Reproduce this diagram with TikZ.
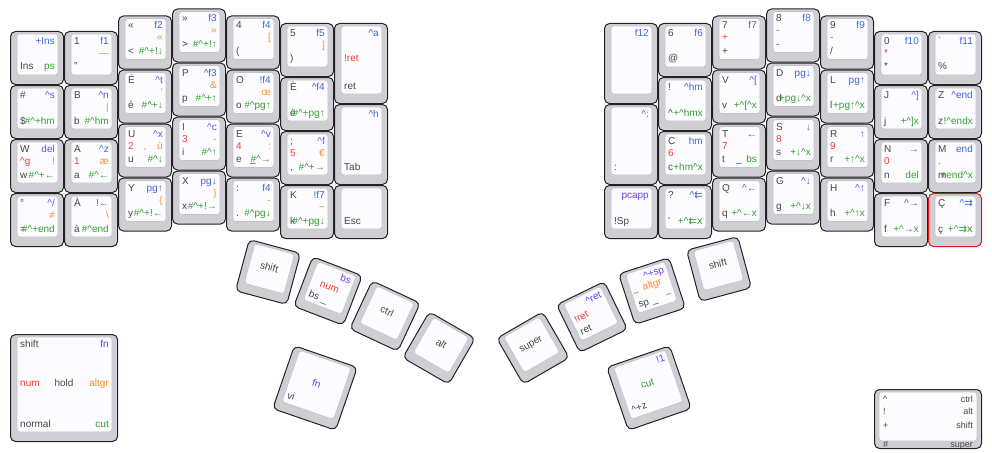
\documentclass[tikz,border=0pt]{standalone}
\usepackage{fontspec}
\setmainfont{Liberation Sans}
\newfontfamily\dvs{DejaVu Sans}
\definecolor{kbord}{RGB}{35,35,38}
\definecolor{kbez}{RGB}{206,206,212}
\definecolor{ktop}{RGB}{252,252,254}
\definecolor{kinb}{RGB}{195,195,200}
\definecolor{ctext}{RGB}{70,70,70}
\definecolor{clight}{RGB}{150,150,150}
\definecolor{cblue}{RGB}{64,100,220}
\definecolor{cgreen}{RGB}{50,160,50}
\definecolor{corange}{RGB}{255,140,40}
\definecolor{cred}{RGB}{245,60,50}
\definecolor{cviolet}{RGB}{100,60,255}
\definecolor{credb}{RGB}{230,20,20}
\newcounter{lgc}
\tikzset{
 keyout/.style={draw=kbord, fill=kbez, line width=1pt, rounded corners=5pt, inner sep=0pt, transform shape},
 keyin/.style={draw=kinb, fill=ktop, line width=0.6pt, rounded corners=3pt},
 lgs/.style={inner sep=0pt, font=\fontsize{10}{12}\selectfont, transform shape},
 lgsmall/.style={font=\fontsize{9}{11}\selectfont},
}
\newcommand\lgd[3]{\stepcounter{lgc}\node[lgs,#1] (lg\arabic{lgc}) at (#2) {#3};}
\newcommand\TL[2][ctext]{\lgd{anchor=base west,text=#1}{10,13.5}{#2}}
\newcommand\TR[2][cblue]{\lgd{anchor=base east,text=#1}{\kr,13.5}{#2}}
\newcommand\ML[2][cred]{\lgd{anchor=base west,text=#1}{10,\km}{#2}}
\newcommand\MC[2][ctext]{\lgd{anchor=base,text=#1}{\kc,\km}{#2}}
\newcommand\MR[2][corange]{\lgd{anchor=base east,text=#1}{\kr,\km}{#2}}
\newcommand\BL[2][ctext]{\lgd{anchor=base west,text=#1}{10,\kb}{#2}}
\newcommand\BC[2][ctext]{\lgd{anchor=base,text=#1}{\kc,\kb}{#2}}
\newcommand\BR[2][cgreen]{\lgd{anchor=base east,text=#1}{\kr,\kb}{#2}}
\newcommand\keybody[4][kbord]{%
 \pgfmathsetmacro\kr{#3-9}\pgfmathsetmacro\kc{#3/2}%
 \pgfmathsetmacro\km{#4/2-1.5}\pgfmathsetmacro\kb{#4-15}%
 \node[keyout, draw=#1, minimum width=#3pt-1pt, minimum height=#4pt-1pt] (#2) at (#3/2,#4/2) {};
 \draw[keyin] (7,3) rectangle (#3-6,#4-10);}
\newcommand\K[6][kbord]{\begin{scope}[shift={(#3,#4)}]\keybody[#1]{#2}{54}{#5}#6\end{scope}}
\newcommand\RK[7]{\begin{scope}[shift={(#2,#3)},rotate=#4,shift={(-#5/2,-#6/2)}]\keybody{#1}{#5}{#6}#7\end{scope}}
\newcommand\LL{\dvs\char"21C7}
\newcommand\RR{\dvs\char"21C9}
\catcode`\^=12
\begin{document}
\begin{tikzpicture}[x=1pt,y=-1pt]
\fill[white] (0,0) rectangle (992,452);
\useasboundingbox (0,0) rectangle (992,452);
% ---------- left half ----------
\K{l00}{10}{31}{54}{\TR{+Ins}\BL{Ins}\BR{ps}}
\K{l01}{10}{85}{54}{\TL{\#}\TR{^s}\BL{\$}\BR{\#^+hm}}
\K{l02}{10}{139}{54}{\TL{W}\TR{del}\ML{^g}\MR{!}\BL{w}\BR{\#^+←}}
\K{l03}{10}{193}{54}{\TL{°}\TR{^/}\MR{≠}\BL{=}\BR{\#^+end}}
\K{l10}{64}{31}{54}{\TL{1}\TR{f1}\MR{—}\BL{"}}
\K{l11}{64}{85}{54}{\TL{B}\TR{^n}\MR{|}\BL{b}\BR{\#^hm}}
\K{l12}{64}{139}{54}{\TL{A}\TR{^z}\ML{1}\MR{æ}\BL{a}\BR{\#^←}}
\K{l13}{64}{193}{54}{\TL{À}\TR{!←}\MR{\textbackslash}\BL{à}\BR{\#^end}}
\K{l20}{118}{15.5}{54}{\TL{«}\TR{f2}\MR{«}\BL{<}\BR{\#^+!↓}}
\K{l21}{118}{69.5}{54}{\TL{É}\TR{^t}\MR{\textquotesingle}\BL{é}\BR{\#^+↓}}
\K{l22}{118}{123.5}{54}{\TL{U}\TR{^x}\ML{2}\MC[clight]{,}\MR{ù}\BL{u}\BR{\#^↓}}
\K{l23}{118}{177.5}{54}{\TL{Y}\TR{pg↑}\MR{\{}\BL{y}\BR{\#^+!←}}
\K{l30}{172}{8.5}{54}{\TL{»}\TR{f3}\MR{»}\BL{>}\BR{\#^+!↑}}
\K{l31}{172}{62.5}{54}{\TL{P}\TR{^f3}\MR{\&}\BL{p}\BR{\#^+↑}}
\K{l32}{172}{116.5}{54}{\TL{I}\TR{^c}\ML{3}\MR{-}\BL{i}\BR{\#^↑}}
\K{l33}{172}{170.5}{54}{\TL{X}\TR{pg↓}\MR{\}}\BL{x}\BR{\#^+!→}}
\K{l40}{226}{15.5}{54}{\TL{4}\TR{f4}\MR{[}\BL{(}}
\K{l41}{226}{69.5}{54}{\TL{O}\TR{!f4}\MR{œ}\BL{o}\BR{\#^pg↑}}
\K{l42}{226}{123.5}{54}{\TL{E}\TR{^v}\ML{4}\MR{:}\BL{e}\BC{\_}\BR{\#^→}}
\K{l43}{226}{177.5}{54}{\TL{:}\TR{f4}\MR{-}\BL{.}\BR{\#^pg↓}}
\K{l50}{280}{23}{54}{\TL{5}\TR{f5}\MR{]}\BL{)}}
\K{l51}{280}{77}{54}{\TL{È}\TR{^f4}\BL{è}\BR{\#^+pg↑}}
\K{l52}{280}{131}{54}{\TL{;}\TR{^f}\ML{5}\MR{€}\BL{,}\BR{\#^+→}}
\K{l53}{280}{185}{54}{\TL{K}\TR{!f7}\MR{\textasciitilde}\BL{k}\BR{\#^+pg↓}}
\K{l60}{334}{23}{81}{\TR{^a}\ML{!ret}\BL{ret}}
\K{l61}{334}{104}{81}{\TR{^h}\BL{Tab}}
\K{l62}{334}{185}{54}{\BL{Esc}}
% ---------- right half ----------
\K{r00}{604}{23}{81}{\TR{f12}}
\K{r01}{604}{104}{81}{\TR{^:}\BL{:}}
\K{r02}{604}{185}{54}{\TR[cviolet]{pcapp}\BL{!Sp}}
\K{r10}{658}{23}{54}{\TL{6}\TR{f6}\BL{@}}
\K{r11}{658}{77}{54}{\TL{!}\TR{^hm}\BL{^}\BR{+^hmx}}
\K{r12}{658}{131}{54}{\TL{C}\TR{hm}\ML{6}\BL{c}\BR{+hm^x}}
\K{r13}{658}{185}{54}{\TL{?}\TR{^\LL}\BL{\textquotesingle}\BR{+^\LL x}}
\K{r20}{712}{15.5}{54}{\TL{7}\TR{f7}\ML{+}\BL{+}}
\K{r21}{712}{69.5}{54}{\TL{V}\TR{^[}\BL{v}\BR{+^[^x}}
\K{r22}{712}{123.5}{54}{\TL{T}\TR{←}\ML{7}\BL{t}\BC{\_}\BR{bs}}
\K{r23}{712}{177.5}{54}{\TL{Q}\TR{^←}\BL{q}\BR{+^←x}}
\K{r30}{766}{8.5}{54}{\TL{8}\TR{f8}\ML{-}\BL{-}}
\K{r31}{766}{62.5}{54}{\TL{D}\TR{pg↓}\BL{d}\BR{+pg↓^x}}
\K{r32}{766}{116.5}{54}{\TL{S}\TR{↓}\ML{8}\BL{s}\BR{+↓^x}}
\K{r33}{766}{170.5}{54}{\TL{G}\TR{^↓}\BL{g}\BR{+^↓x}}
\K{r40}{820}{15.5}{54}{\TL{9}\TR{f9}\ML{-}\BL{/}}
\K{r41}{820}{69.5}{54}{\TL{L}\TR{pg↑}\BL{l}\BR{+pg↑^x}}
\K{r42}{820}{123.5}{54}{\TL{R}\TR{↑}\ML{9}\BL{r}\BR{+↑^x}}
\K{r43}{820}{177.5}{54}{\TL{H}\TR{^↑}\BL{h}\BR{+^↑x}}
\K{r50}{874}{31}{54}{\TL{0}\TR{f10}\ML{*}\BL{*}}
\K{r51}{874}{85}{54}{\TL{J}\TR{^]}\BL{j}\BR{+^]x}}
\K{r52}{874}{139}{54}{\TL{N}\TR{→}\ML{0}\BL{n}\BR{del}}
\K{r53}{874}{193}{54}{\TL{F}\TR{^→}\BL{f}\BR{+^→x}}
\K{r60}{928}{31}{54}{\TL{\textasciigrave}\TR{f11}\BL{\%}}
\K{r61}{928}{85}{54}{\TL{Z}\TR{^end}\BL{z}\BR{!^endx}}
\K{r62}{928}{139}{54}{\TL{M}\TR{end}\ML{.}\BL{m}\BR{+end^x}}
\K[credb]{r63}{928}{193}{54}{\TL{Ç}\TR{^\RR}\BL{ç}\BR{+^\RR x}}
% ---------- thumbs ----------
\RK{tl1}{268}{272}{-15}{54}{54}{\MC{shift}}
\RK{tl2}{328}{291}{-21}{54}{54}{\TR[cviolet]{bs}\MC[cred]{num}\BL{bs}\BC{\_}}
\RK{tl3}{385}{316}{-25}{54}{54}{\MC{ctrl}}
\RK{tl4}{439}{348}{-30}{54}{54}{\MC{alt}}
\RK{tl5}{315}{388}{-19}{67.5}{67.5}{\MC[cviolet]{fn}\BL{vi}}
\RK{tr1}{533}{348}{30}{54}{54}{\MC{super}}
\RK{tr2}{592}{317}{26}{54}{54}{\TR[cviolet]{^ret}\ML{!ret}\BL{ret}}
\RK{tr3}{652}{291}{18}{54}{54}{\TR[cviolet]{^+sp}\lgd{anchor=base west,text=cred}{8,\km+2}{\textasciitilde}\lgd{anchor=base,text=corange}{\kc+2,\km-1.5}{altgr}\BL{sp}\BC{\_}\BR{\textasciitilde}}
\RK{tr4}{719}{269}{15}{54}{54}{\MC{shift}}
\RK{tr5}{649}{388}{19}{67.5}{67.5}{\TR[cviolet]{!1}\MC[cgreen]{cut}\BL{^+z}}
% ---------- legends ----------
\begin{scope}[shift={(10,334)}]
\keybody{legl}{108}{108}
\TL{shift}\TR[cviolet]{fn}\ML{num}\MC{hold}\MR{altgr}\BL{normal}\BR{cut}
\end{scope}
\begin{scope}[shift={(874,389)}]
\node[keyout, minimum width=107pt, minimum height=59pt] (legr) at (54,30) {};
\draw[keyin] (5,3) rectangle (103,52);
\lgd{anchor=base west,text=ctext,lgsmall}{9,13}{^}\lgd{anchor=base east,text=ctext,lgsmall}{99,13}{ctrl}
\lgd{anchor=base west,text=ctext,lgsmall}{9,25.5}{!}\lgd{anchor=base east,text=ctext,lgsmall}{99,25.5}{alt}
\lgd{anchor=base west,text=ctext,lgsmall}{9,39}{+}\lgd{anchor=base east,text=ctext,lgsmall}{99,39}{shift}
\lgd{anchor=base west,text=ctext,lgsmall}{9,58}{\#}\lgd{anchor=base east,text=ctext,lgsmall}{99,58}{super}
\end{scope}
\end{tikzpicture}
\end{document}
